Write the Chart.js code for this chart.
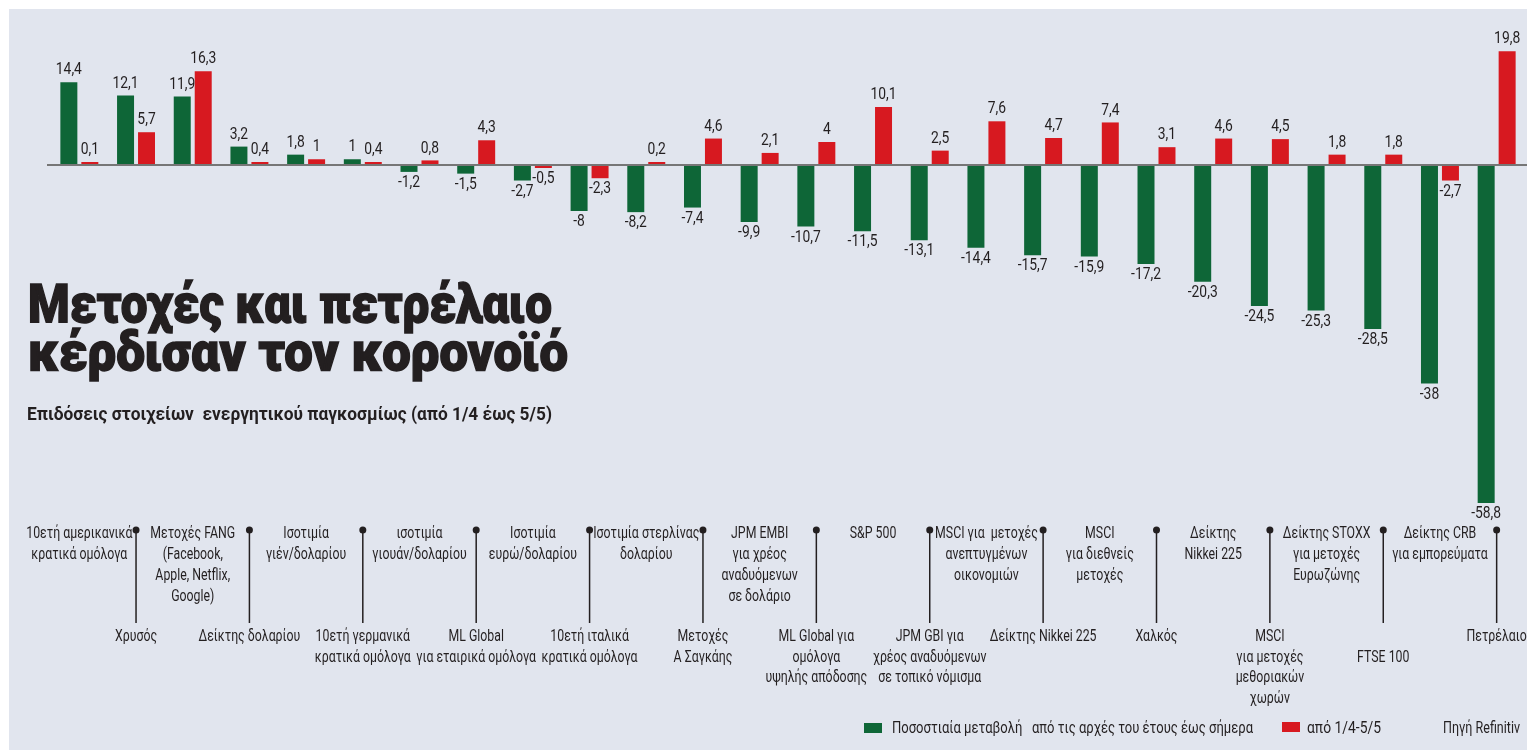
<!DOCTYPE html>
<html>
<head>
<meta charset="utf-8">
<script src="https://cdn.jsdelivr.net/npm/chart.js@4.4.1/dist/chart.umd.min.js"></script>
<style>
  html, body { margin: 0; padding: 0; background: #ffffff; }
  #wrap { position: relative; width: 1527px; height: 750px; overflow: hidden; }
  #chart { position: absolute; left: 0; top: 0; }
  .txt { position: absolute; white-space: pre; transform-origin: 0 0; color: #231f20;
         font-family: Roboto, "Open Sans", sans-serif; }
  .title { font-size: 53px; line-height: 52px; font-weight: 900; -webkit-text-stroke: 1.4px #231f20; }
  .sub { font-size: 18px; line-height: 18px; font-weight: 700; }
  .leg { font-size: 17px; line-height: 17px; font-weight: 400; }
  .box { position: absolute; width: 18px; height: 10px; }
</style>
</head>
<body>
<div id="wrap">
  <canvas id="chart" width="1527" height="750"></canvas>
  <div class="txt title" style="left:28px; top:278px;" data-w="524">Μετοχές και πετρέλαιο</div>
  <div class="txt title" style="left:28px; top:326px;" data-w="540">κέρδισαν τον κορονοϊό</div>
  <div class="txt sub" style="left:27px; top:405px;" data-w="525">Επιδόσεις στοιχείων  ενεργητικού παγκοσμίως (από 1/4 έως 5/5)</div>
  <div class="box" id="boxGreen" style="left:864px; top:723px;"></div>
  <div class="txt leg" id="legGreen" style="left:892px; top:719px;" data-w="361"></div>
  <div class="box" id="boxRed" style="left:1282px; top:722px;"></div>
  <div class="txt leg" id="legRed" style="left:1307px; top:719px;" data-w="74"></div>
  <div class="txt leg" style="left:1443px; top:719px;" data-w="77">Πηγή Refinitiv</div>
</div>
<script>
// ---------------- DATA ----------------
const categories = [
  ["10ετή αμερικανικά", "κρατικά ομόλογα"],
  ["Χρυσός"],
  ["Μετοχές FANG", "(Facebook,", "Apple, Netflix,", "Google)"],
  ["Δείκτης δολαρίου"],
  ["Ισοτιμία", "γιέν/δολαρίου"],
  ["10ετή γερμανικά", "κρατικά ομόλογα"],
  ["ισοτιμία", "γιουάν/δολαρίου"],
  ["ML Global", "για εταιρικά ομόλογα"],
  ["Ισοτιμία", "ευρώ/δολαρίου"],
  ["10ετή ιταλικά", "κρατικά ομόλογα"],
  ["Ισοτιμία στερλίνας", "δολαρίου"],
  ["Μετοχές", "Α Σαγκάης"],
  ["JPM EMBI", "για χρέος", "αναδυόμενων", "σε δολάριο"],
  ["ML Global για", "ομόλογα", "υψηλής απόδοσης"],
  ["S&P 500"],
  ["JPM GBI για", "χρέος αναδυόμενων", "σε τοπικό νόμισμα"],
  ["MSCI για  μετοχές", "ανεπτυγμένων", "οικονομιών"],
  ["Δείκτης Nikkei 225"],
  ["MSCI", "για διεθνείς", "μετοχές"],
  ["Χαλκός"],
  ["Δείκτης", "Nikkei 225"],
  ["MSCI", "για μετοχές", "μεθοριακών", "χωρών"],
  ["Δείκτης STOXX", "για μετοχές", "Ευρωζώνης"],
  ["", "FTSE 100"],
  ["Δείκτης CRB", "για εμπορεύματα"],
  ["Πετρέλαιο"]
];
const ytdChange = [14.4, 12.1, 11.9, 3.2, 1.8, 1, -1.2, -1.5, -2.7, -8, -8.2, -7.4, -9.9,
                   -10.7, -11.5, -13.1, -14.4, -15.7, -15.9, -17.2, -20.3, -24.5, -25.3, -28.5, -38, -58.8];
const aprMayChange = [0.1, 5.7, 16.3, 0.4, 1, 0.4, 0.8, 4.3, -0.5, -2.3, 0.2, 4.6, 2.1,
                      4, 10.1, 2.5, 7.6, 4.7, 7.4, 3.1, 4.6, 4.5, 1.8, 1.8, -2.7, 19.8];
const seriesNames = ["Ποσοστιαία μεταβολή   από τις αρχές του έτους έως σήμερα", "από 1/4-5/5"];

// ---------------- STYLE ----------------
const GREEN = '#0e6637', RED = '#d71920', BG = '#e1e5ee', INK = '#231f20';

document.getElementById('boxGreen').style.background = GREEN;
document.getElementById('boxRed').style.background = RED;
document.getElementById('legGreen').textContent = seriesNames[0];
document.getElementById('legRed').textContent = seriesNames[1];

function condText(ctx, txt, x, y, sx) {
  ctx.save(); ctx.translate(x, y); ctx.scale(sx, 1); ctx.fillText(txt, 0, 0); ctx.restore();
}
const fmt = v => String(v).replace('.', ',');

const deco = {
  id: 'deco',
  beforeDraw(chart) {
    const c = chart.ctx;
    c.save();
    c.fillStyle = '#ffffff'; c.fillRect(0, 0, chart.width, chart.height);
    c.fillStyle = BG; c.fillRect(9, 9, chart.width - 9, chart.height - 9);
    c.restore();
  },
  afterDatasetsDraw(chart) {
    const c = chart.ctx, ys = chart.scales.y, xs = chart.scales.x;
    const y0 = ys.getPixelForValue(0);
    c.save();
    c.strokeStyle = '#767676'; c.lineWidth = 2;
    c.beginPath(); c.moveTo(47, y0); c.lineTo(chart.width, y0); c.stroke();

    c.fillStyle = INK; c.textAlign = 'center'; c.textBaseline = 'middle';
    c.font = '16.5px Roboto';
    chart.data.datasets.forEach((ds, d) => {
      chart.getDatasetMeta(d).data.forEach((el, i) => {
        const v = ds.data[i];
        const ty = v >= 0 ? Math.min(el.y, el.base) - 12 : Math.max(el.y, el.base) + 11;
        condText(c, fmt(v), el.x, ty, 0.84);
      });
    });

    c.font = '16px Roboto';
    c.strokeStyle = INK; c.lineWidth = 1.5;
    chart.data.labels.forEach((lines, i) => {
      const cx = xs.getPixelForValue(i);
      if (i % 2 === 0) {
        lines.forEach((t, k) => condText(c, t, cx, 534 + k * 21, 0.77));
      } else {
        c.beginPath(); c.moveTo(cx, 530); c.lineTo(cx, 623); c.stroke();
        c.beginPath(); c.arc(cx, 530, 3.5, 0, Math.PI * 2); c.fill();
        lines.forEach((t, k) => condText(c, t, cx, 637 + k * 20.5, 0.77));
      }
    });
    c.restore();
  }
};

new Chart(document.getElementById('chart'), {
  type: 'bar',
  data: {
    labels: categories,
    datasets: [
      { label: seriesNames[0], data: ytdChange, backgroundColor: GREEN, minBarLength: 3 },
      { label: seriesNames[1], data: aprMayChange, backgroundColor: RED, minBarLength: 3 }
    ]
  },
  options: {
    responsive: false,
    animation: false,
    devicePixelRatio: 1,
    categoryPercentage: 0.74,
    barPercentage: 0.81,
    layout: { padding: { left: 51, right: 2, top: 50, bottom: 240 } },
    scales: {
      x: { display: false, offset: true, grid: { display: false } },
      y: { display: false, min: -60, max: 20 }
    },
    plugins: { legend: { display: false }, tooltip: { enabled: false } }
  },
  plugins: [deco]
});

document.querySelectorAll('[data-w]').forEach(el => {
  const w = el.getBoundingClientRect().width;
  if (w > 0) el.style.transform = 'scaleX(' + (parseFloat(el.dataset.w) / w) + ')';
});
</script>
</body>
</html>
